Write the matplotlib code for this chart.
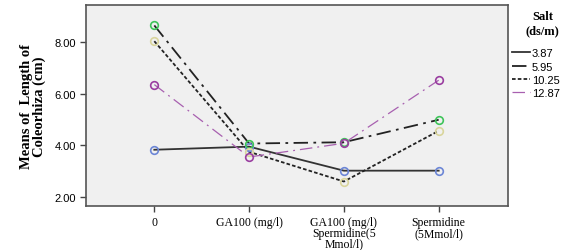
import matplotlib
matplotlib.use("Agg")
import matplotlib.pyplot as plt
from matplotlib.lines import Line2D

categories = ["0", "GA100 (mg/l)", "GA100 (mg/l)\nSpermidine(5\nMmol/l)", "Spermidine\n(5Mmol/l)"]
salt_levels = ["3.87", "5.95", "10.25", "12.87"]
s387 = [3.83, 3.95, 3.02, 3.02]
s595 = [8.64, 4.07, 4.12, 4.99]
s1025 = [8.03, 3.75, 2.60, 4.56]
s1287 = [6.35, 3.55, 4.08, 6.52]
yticks = [2.0, 4.0, 6.0, 8.0]

series = [s387, s595, s1025, s1287]
line_colors = ["#333333", "#222222", "#222222", "#a860b0"]
line_styles = ["-", (0, (8, 3, 1.5, 3)), (0, (2, 1.2)), (0, (10, 4, 1.5, 4))]
line_widths = [1.3, 1.3, 1.3, 0.9]
marker_colors = ["#6c86d6", "#3fc45a", "#d9d59c", "#9a3ea0"]

fig = plt.figure(figsize=(5.70, 2.51), dpi=100)
ax = fig.add_axes([0.151, 0.175, 0.740, 0.801])
ax.set_facecolor("#f0f0f0")
x = list(range(len(categories)))
for vals, lc, ls, lw, mc in zip(series, line_colors, line_styles, line_widths, marker_colors):
    ax.plot(x, vals, color=lc, linestyle=ls, linewidth=lw, zorder=2)
    ax.plot(x, vals, linestyle="none", marker="o", markersize=5.5,
            markerfacecolor="none", markeredgecolor=mc, markeredgewidth=1.2, zorder=3)

ax.set_xlim(-0.72, 3.73)
ax.set_ylim(1.65, 9.43)
ax.set_yticks(yticks)
ax.set_yticklabels([f"{v:.2f}" for v in yticks], fontsize=8, family="Liberation Sans")
ax.set_xticks(x)
ax.set_xticklabels(categories, fontsize=8.5, family="Liberation Serif", linespacing=0.85, va="top")
ax.tick_params(axis="both", length=4, width=1, color="#444444")
for sp in ax.spines.values():
    sp.set_color("#555555")
    sp.set_linewidth(1.2)
ax.set_ylabel("Means of  Length of\nColeorhiza (cm)", fontsize=10.5, fontweight="bold",
              family="Liberation Serif", linespacing=0.95, labelpad=6)

handles = [Line2D([0], [0], color=lc, linestyle=ls, linewidth=lw)
           for lc, ls, lw in zip(line_colors, line_styles, line_widths)]
leg = fig.legend(handles, salt_levels, loc="upper left", bbox_to_anchor=(0.885, 0.835),
                 frameon=False, prop={"family": "Liberation Sans", "size": 8},
                 handlelength=1.6, handletextpad=0.15, labelspacing=0.3, borderpad=0.2)
fig.text(0.952, 0.955, "Salt\n(ds/m)", ha="center", va="top", fontsize=9, fontweight="bold",
         family="Liberation Serif", linespacing=1.25)

fig.savefig("out.png", dpi=100)
